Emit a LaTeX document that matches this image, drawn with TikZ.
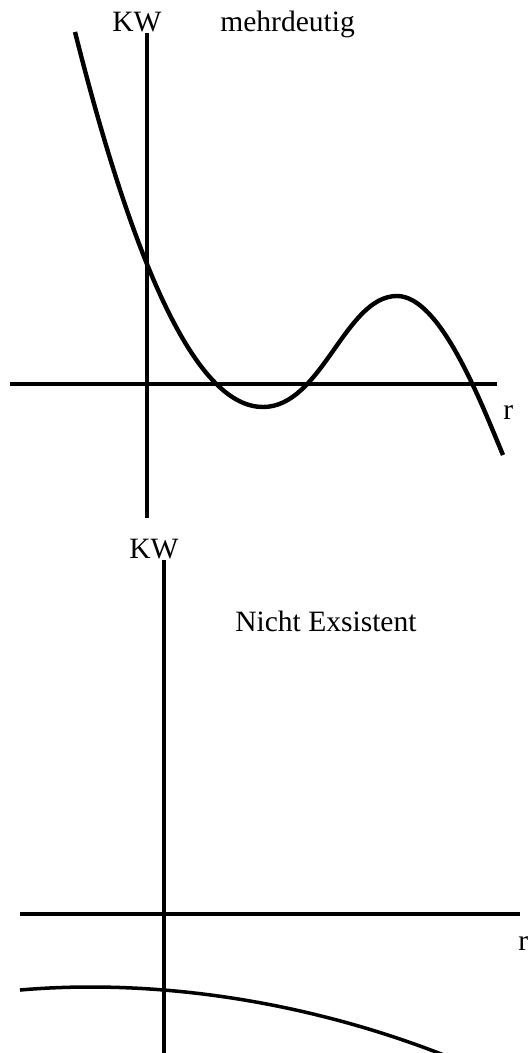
\documentclass[tikz,border=0pt]{standalone}
\usepackage{fontspec}
\setmainfont{Liberation Serif}
\usetikzlibrary{positioning}

\begin{document}
\begin{tikzpicture}[
    x=0.02cm, y=-0.02cm,
    font=\fontsize{16.8}{19}\selectfont,
    axis/.style={line width=1.9pt},
    curve/.style={line width=2.5pt, line join=round},
    lbl/.style={inner sep=0pt, anchor=base west}
]
\useasboundingbox (0,0) rectangle (529,1053);

% upper plot
\coordinate (yTopA) at (147,33);
\coordinate (yBotA) at (147,518);
\coordinate (xLeftA) at (10,384);
\coordinate (xRightA) at (497,384);
\draw[axis] (yTopA) -- (yBotA);
\draw[axis] (xLeftA) -- (xRightA);
\node[lbl] (kwA) at (112,32) {KW};
\node[lbl] (titleA) at (220,32) {mehrdeutig};
\node[lbl] (rA) at (503,419) {r};
\coordinate (startA) at (75,32);
\coordinate (minA) at (263,407);
\coordinate (maxA) at (397,296);
\coordinate (endA) at (503,455);
\draw[curve] (startA) .. controls (138,282) and (200,407) .. (minA)
    .. controls (322,407) and (345,296) .. (maxA)
    .. controls (440,296) and (480,400) .. (endA);

% lower plot
\coordinate (yTopB) at (164,560);
\coordinate (yBotB) at (164,1053);
\coordinate (xLeftB) at (20,914);
\coordinate (xRightB) at (520,914);
\draw[axis] (yTopB) -- (yBotB);
\draw[axis] (xLeftB) -- (xRightB);
\node[lbl] (kwB) at (129,558) {KW};
\node[lbl] (titleB) at (235,631) {Nicht Exsistent};
\node[lbl] (rB) at (518,950) {r};
\draw[curve, line width=2pt] (20,990) parabola bend (90,987) (449,1057);
\end{tikzpicture}
\end{document}
